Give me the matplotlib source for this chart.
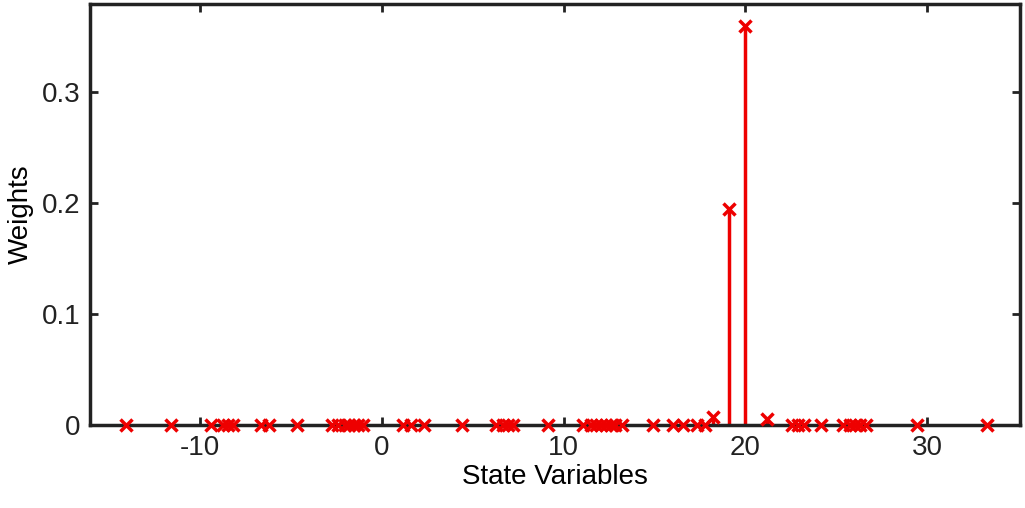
import matplotlib
matplotlib.use("Agg")
import matplotlib.pyplot as plt

x = [-14.07, -11.59, -9.40, -8.74, -8.46, -8.19, -6.65, -6.21, -4.67, -2.75, -2.42, -2.03,
     -1.81, -1.54, -1.32, -1.04, 1.15, 1.59, 2.31, 4.40, 6.26, 6.65, 6.92, 7.20, 9.12,
     11.04, 11.48, 11.76, 12.03, 12.31, 12.58, 12.80, 13.19, 14.89, 16.04, 16.59, 17.36,
     17.80, 18.24, 19.12, 20.0, 21.21, 22.58, 22.91, 23.24, 24.18, 25.38, 25.77, 26.04,
     26.32, 26.65, 29.45, 33.30]
w = [0.0] * len(x)
w[x.index(18.24)] = 0.007
w[x.index(19.12)] = 0.195
w[x.index(20.0)] = 0.36
w[x.index(21.21)] = 0.006

plt.rcParams['font.family'] = ['Liberation Sans', 'DejaVu Sans']
plt.rcParams['axes.unicode_minus'] = False
fig = plt.figure(figsize=(10.25, 5.08), dpi=100)
ax = fig.add_axes([0.088, 0.163, 0.907, 0.83])
for xi, wi in zip(x, w):
    if wi > 0:
        ax.plot([xi, xi], [0, wi], color='#ee0000', lw=2.5, zorder=2)
ax.plot(x, w, 'x', color='#ee0000', ms=8, mew=2.5, zorder=3, clip_on=False)
ax.axhline(0, color='#222222', lw=2, zorder=1)
ax.set_xlim(-16.05, 35.1)
ax.set_ylim(0, 0.38)
ax.set_xticks([-10, 0, 10, 20, 30])
ax.set_yticks([0, 0.1, 0.2, 0.3])
ax.set_yticklabels(['0', '0.1', '0.2', '0.3'])
ax.tick_params(direction='in', top=True, right=True, labelsize=20, width=2, length=6,
               pad=7, colors='#222222')
for s in ax.spines.values():
    s.set_linewidth(2.5)
    s.set_color('#222222')
ax.set_xlabel('State Variables', fontsize=20, labelpad=2)
ax.set_ylabel('Weights', fontsize=20, labelpad=6)
fig.savefig('out.png', dpi=100)
